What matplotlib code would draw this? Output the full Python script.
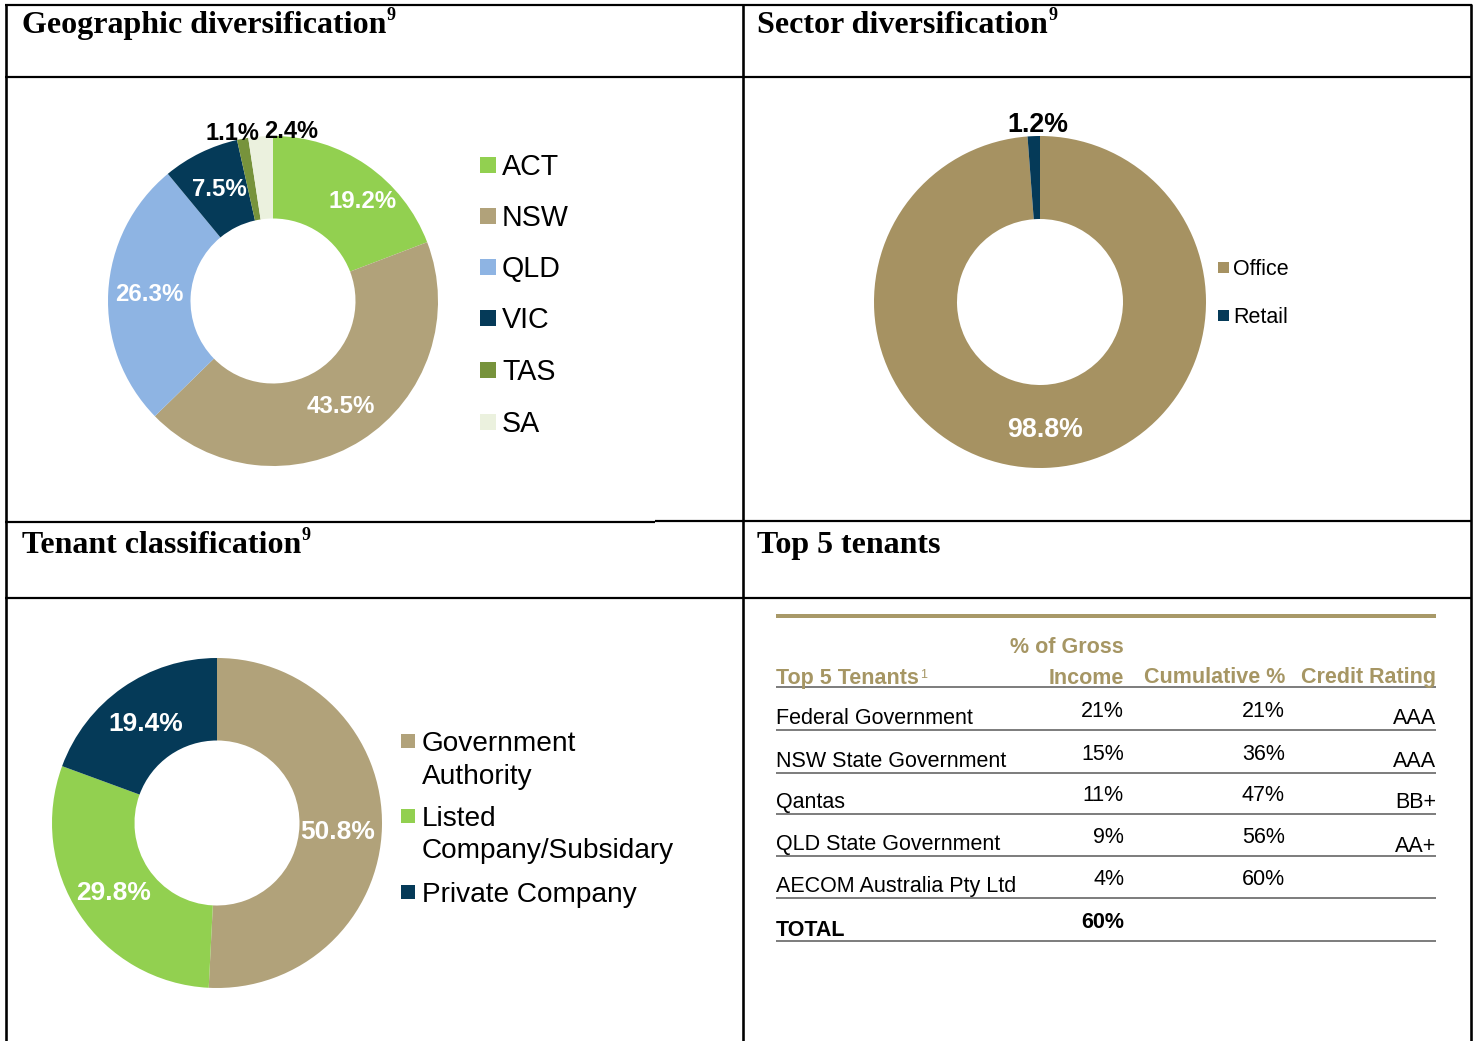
import matplotlib
matplotlib.use("Agg")
import matplotlib.pyplot as plt
from matplotlib.patches import Rectangle
import numpy as np

W, H, DPI = 1480, 1041, 100

# ---------------- data ----------------
geo_labels = ["ACT", "NSW", "QLD", "VIC", "TAS", "SA"]
geo_values = [19.2, 43.5, 26.3, 7.5, 1.1, 2.4]
geo_colors = ["#92D050", "#B1A27A", "#8EB4E3", "#053A58", "#77933C", "#EBF1DE"]

sector_labels = ["Office", "Retail"]
sector_values = [98.8, 1.2]
sector_colors = ["#A69262", "#053A58"]

tenant_class_labels = ["Government\nAuthority", "Listed\nCompany/Subsidary", "Private Company"]
tenant_class_values = [50.8, 29.8, 19.4]
tenant_class_colors = ["#B1A27A", "#92D050", "#053A58"]

top_tenants = ["Federal Government", "NSW State Government", "Qantas",
               "QLD State Government", "AECOM Australia Pty Ltd"]
income_pct = [21, 15, 11, 9, 4]
cumulative_pct = [21, 36, 47, 56, 60]
credit_rating = ["AAA", "AAA", "BB+", "AA+", ""]
total_pct = 60

# ---------------- figure ----------------
SANS = ["Liberation Sans", "DejaVu Sans"]
SERIF = ["Liberation Serif", "DejaVu Serif"]
GOLD = "#A69664"

fig = plt.figure(figsize=(W / DPI, H / DPI), dpi=DPI)
bg = fig.add_axes([0, 0, 1, 1])
bg.set_xlim(0, W)
bg.set_ylim(H, 0)
bg.axis("off")

def px(v):  # pixels -> points
    return v * 72.0 / DPI

# grid lines
lw = px(2.2)
for (x0, x1, y) in [(5, 1472, 5), (5, 1472, 77), (5, 655, 522), (655, 1472, 521), (5, 1472, 598)]:
    bg.plot([x0, x1], [y, y], color="black", lw=lw, solid_capstyle="butt")
for x in [6, 743, 1471]:
    bg.plot([x, x], [4, H], color="black", lw=px(2.6), solid_capstyle="butt")

# titles
def title(x, y, s, sup=None):
    t = bg.text(x, y, s, fontsize=23, fontweight="bold", family=SERIF,
                ha="left", va="baseline")
    if sup:
        bg.annotate(sup, xy=(1, 1), xycoords=t, xytext=(0.3, 3),
                    textcoords="offset points", fontsize=13, fontweight="bold",
                    family=SERIF, ha="left", va="top")
    return t

title(22, 33, "Geographic diversification", "9")
title(757, 33, "Sector diversification", "9")
title(22, 553, "Tenant classification", "9")
title(757, 553, "Top 5 tenants")

# ---------------- donuts ----------------
def donut(cx, cy, r, values, colors):
    ax = fig.add_axes([(cx - r) / W, 1 - (cy + r) / H, 2 * r / W, 2 * r / H])
    wedges, _ = ax.pie(values, colors=colors, startangle=90, counterclock=False,
                       radius=1, wedgeprops=dict(width=0.5, linewidth=0))
    ax.set_xlim(-1, 1)
    ax.set_ylim(-1, 1)
    ax.set_aspect("equal")
    ax.axis("off")
    return ax, wedges

def wedge_label(ax, w, d, text, size, color="white", dx=0.0, dy=0.0):
    mid = np.deg2rad((w.theta1 + w.theta2) / 2)
    ax.text(d * np.cos(mid) + dx, d * np.sin(mid) + dy, text, ha="center", va="center",
            fontsize=size, fontweight="bold", color=color, family=SANS)

# Geographic
ax1, w1 = donut(273, 301, 165, geo_values, geo_colors)
geo_dist = [0.82, 0.76, 0.76, 0.75]
geo_off = [(0.08, -0.07), (0, 0), (0.01, 0), (0.005, 0)]
for i in range(4):
    wedge_label(ax1, w1[i], geo_dist[i], f"{geo_values[i]}%", 17.3,
                dx=geo_off[i][0], dy=geo_off[i][1])
wedge_label(ax1, w1[4], 1.03, f"{geo_values[4]}%", 17.0, color="black", dx=-0.055, dy=0.0)
wedge_label(ax1, w1[5], 1.03, f"{geo_values[5]}%", 17.0, color="black", dx=0.19, dy=0.0)

# Sector
ax2, w2 = donut(1040, 302, 166, sector_values, sector_colors)
wedge_label(ax2, w2[0], 0.76, f"{sector_values[0]}%", 19.3, dy=-0.01)
wedge_label(ax2, w2[1], 1.07, f"{sector_values[1]}%", 19.3, color="black", dx=0.03, dy=-0.005)

# Tenant classification
ax3, w3 = donut(217, 823, 165, tenant_class_values, tenant_class_colors)
ten_off = [(-0.02, -0.035), (0, -0.01), (0, -0.015)]
for i in range(3):
    wedge_label(ax3, w3[i], 0.75, f"{tenant_class_values[i]}%", 19,
                dx=ten_off[i][0], dy=ten_off[i][1])

# ---------------- legends (manual, in pixel space) ----------------
def legend(x_box, box, x_text, baselines, labels, colors, size, cap):
    for yb, lab, c in zip(baselines, labels, colors):
        yc = yb - cap / 2
        bg.add_patch(Rectangle((x_box, yc - box / 2), box, box, color=c, lw=0))
        bg.text(x_text, yb, lab, fontsize=size, family=SANS, ha="left", va="baseline")

legend(480, 16, 502, [175, 226, 277, 328, 380, 432], geo_labels, geo_colors, 20.6, 20)
legend(1218, 11, 1233, [275, 323], sector_labels, sector_colors, 15.5, 15)

# tenant legend: first line of each label aligned with box
t_base = [751, 826, 902]
for yb, lab, c in zip(t_base, tenant_class_labels, tenant_class_colors):
    bg.add_patch(Rectangle((401, yb - 10 - 7), 14, 14, color=c, lw=0))
    for k, line in enumerate(lab.split("\n")):
        bg.text(422, yb + k * 32.5, line, fontsize=20.2, family=SANS, ha="left", va="baseline")

# ---------------- table ----------------
TX0, TX1 = 776, 1436
C_INC, C_CUM, C_RAT = 1124, 1285, 1436
FS = 15.5
bg.plot([TX0, TX1], [616, 616], color="#A89968", lw=px(4), solid_capstyle="butt")
hdr = dict(fontsize=FS, fontweight="bold", color=GOLD, family=SANS, va="baseline")
th = bg.text(TX0, 684, "Top 5 Tenants", ha="left", **hdr)
bg.annotate("1", xy=(1, 1), xycoords=th, xytext=(0.8, -1), textcoords="offset points",
            fontsize=9, color=GOLD, family=SANS, ha="left", va="top")
bg.text(C_INC, 653, "% of Gross", ha="right", **hdr)
bg.text(C_INC, 684, "Income", ha="right", **hdr)
bg.text(C_CUM, 683, "Cumulative %", ha="right", **hdr)
bg.text(C_RAT, 683, "Credit Rating", ha="right", **hdr)

row_lines = [687, 730, 773, 814, 856, 898, 941]
for y in row_lines:
    bg.plot([TX0, TX1], [y, y], color="#7F7F7F", lw=px(2), solid_capstyle="butt")

body = dict(fontsize=FS, color="black", family=SANS, va="baseline")
for i, name in enumerate(top_tenants):
    y_line = row_lines[i + 1]
    bg.text(TX0, y_line - 6, name, ha="left", **body)
    bg.text(C_INC, y_line - 13, f"{income_pct[i]}%", ha="right", **body)
    bg.text(C_CUM, y_line - 13, f"{cumulative_pct[i]}%", ha="right", **body)
    if credit_rating[i]:
        off = 4 if credit_rating[i] == "AA+" else 6
        bg.text(C_RAT, y_line - off, credit_rating[i], ha="right", **body)
bg.text(TX0, row_lines[-1] - 5, "TOTAL", ha="left", fontweight="bold", **body)
bg.text(C_INC, row_lines[-1] - 13, f"{total_pct}%", ha="right", fontweight="bold", **body)

fig.savefig("out.png", dpi=DPI)
